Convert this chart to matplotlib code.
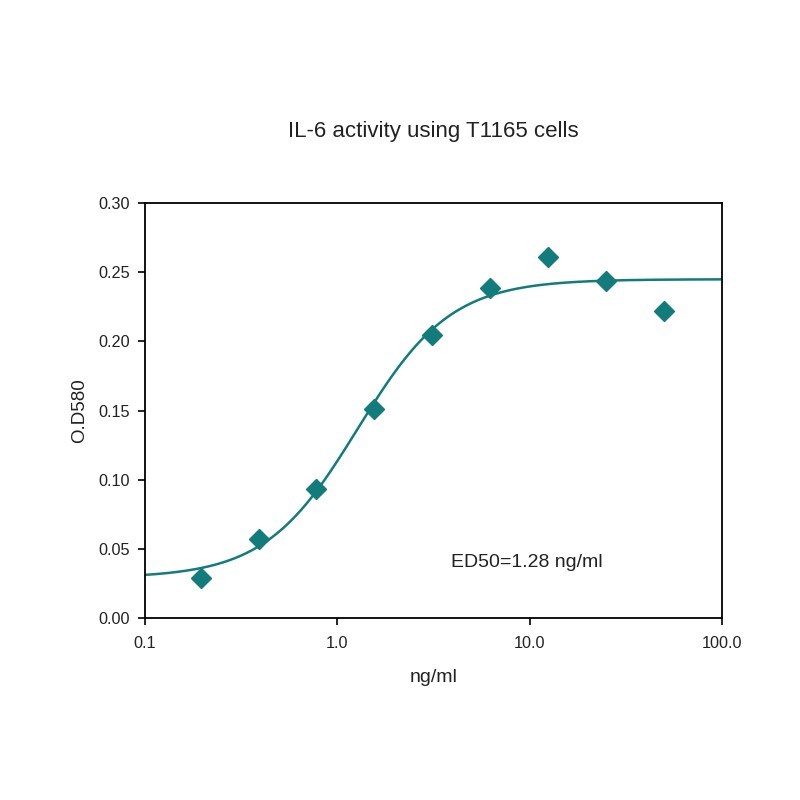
import numpy as np
import matplotlib
matplotlib.use("Agg")
import matplotlib.pyplot as plt

plt.rcParams["font.family"] = ["Liberation Sans", "DejaVu Sans"]

# measured points
conc = [0.195, 0.39, 0.78, 1.5625, 3.125, 6.25, 12.5, 25.0, 50.0]
od = [0.029, 0.057, 0.093, 0.151, 0.205, 0.239, 0.261, 0.244, 0.222]

# 4PL fit parameters
bottom = 0.029
top = 0.245
ed50 = 1.28
hill = 1.8

xticks = [0.1, 1.0, 10.0, 100.0]
xtick_labels = ["0.1", "1.0", "10.0", "100.0"]
yticks = [0.00, 0.05, 0.10, 0.15, 0.20, 0.25, 0.30]

teal = "#127c7c"

fig = plt.figure(figsize=(8, 8), dpi=100)
ax = fig.add_axes([0.181, 0.2275, 0.7215, 0.5185])

xs = np.logspace(-1, 2, 400)
fit = bottom + (top - bottom) / (1 + (ed50 / xs) ** hill)
ax.plot(xs, fit, color=teal, lw=1.8)
ax.plot(conc, od, linestyle="none", marker="D", ms=10, color=teal, mec=teal)

ax.set_xscale("log")
ax.set_xlim(0.1, 100)
ax.set_ylim(0, 0.30)
ax.set_xticks(xticks)
ax.set_xticklabels(xtick_labels)
ax.xaxis.set_minor_locator(matplotlib.ticker.NullLocator())
ax.set_yticks(yticks)
ax.set_yticklabels(["%.2f" % v for v in yticks])
ax.tick_params(direction="out", length=5, width=1.2, labelsize=11.7,
               pad=6, labelcolor="#222222")
ax.tick_params(axis="x", pad=8)
for s in ax.spines.values():
    s.set_linewidth(1.3)

ax.set_xlabel("ng/ml", fontsize=14, labelpad=13, color="#222222")
ax.set_ylabel("O.D580", fontsize=13.5, labelpad=7, color="#222222")
fig.text(0.5419, 1 - 132 / 800, "IL-6 activity using T1165 cells",
         fontsize=16, ha="center", va="center", color="#222222")
ax.text(3.9, 0.0405, "ED50=1.28 ng/ml", fontsize=14, ha="left", va="center",
        color="#222222")

fig.savefig("out.png", dpi=100, facecolor="white")
